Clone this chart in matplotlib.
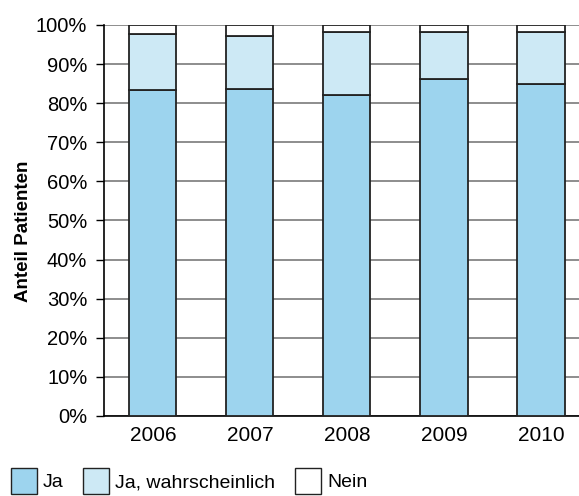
import matplotlib
matplotlib.use("Agg")
import matplotlib.pyplot as plt
from matplotlib.patches import Patch
from matplotlib.ticker import PercentFormatter
import numpy as np

plt.rcParams["font.family"] = ["Liberation Sans", "DejaVu Sans"]
plt.rcParams["font.size"] = 14

# ── data ──────────────────────────────────────────────────────────────────────
years = ["2006", "2007", "2008", "2009", "2010"]
ja = [83.4, 83.6, 82.2, 86.1, 84.9]
ja_wahrsch = [14.2, 13.6, 16.1, 12.0, 13.2]
nein = [2.4, 2.8, 1.7, 1.9, 1.9]

C_JA = "#9dd4ee"
C_JW = "#cde9f5"
C_NEIN = "#ffffff"
C_EDGE = "#222222"

fig = plt.figure(figsize=(5.79, 4.96), dpi=100)
ax = fig.add_axes([0.1796, 0.1613, 0.8385, 0.7883])

x = np.arange(len(years))
w = 0.485
bottom = np.zeros(len(years))
for vals, col, lbl in [(ja, C_JA, "Ja"), (ja_wahrsch, C_JW, "Ja, wahrscheinlich"),
                       (nein, C_NEIN, "Nein")]:
    ax.bar(x, vals, w, bottom=bottom, color=col, edgecolor=C_EDGE,
           linewidth=1.3, zorder=3, label=lbl)
    bottom += np.array(vals)

ax.set_xlim(-0.505, 4.5)
ax.set_ylim(0, 100)
ax.set_yticks(np.arange(0, 101, 10))
ax.yaxis.set_major_formatter(PercentFormatter(decimals=0))
ax.set_xticks(x)
ax.set_xticklabels(years)
ax.tick_params(axis="x", length=0, pad=7, labelsize=15)
ax.tick_params(axis="y", length=6, width=1, direction="out", pad=6, labelsize=14.5)
ax.grid(axis="y", color="#7a7a7a", linewidth=1.2, zorder=0)
for s in ("top", "right"):
    ax.spines[s].set_visible(False)
ax.spines["left"].set_linewidth(1.2)
ax.spines["bottom"].set_linewidth(1.2)
ax.set_ylabel("Anteil Patienten", fontweight="bold", fontsize=13.5)
ax.yaxis.set_label_coords(-0.149, 0.473)

handles = [Patch(facecolor=C_JA, edgecolor=C_EDGE, linewidth=1.0),
           Patch(facecolor=C_JW, edgecolor=C_EDGE, linewidth=1.0),
           Patch(facecolor=C_NEIN, edgecolor=C_EDGE, linewidth=1.0)]
fig.legend(handles, ["Ja", "Ja, wahrscheinlich", "Nein"], loc="lower left",
           bbox_to_anchor=(11 / 579, 2 / 496), ncol=3, frameon=False,
           fontsize=14, handlelength=1.34, handleheight=1.685, handletextpad=0.31,
           columnspacing=1.0, borderpad=0, borderaxespad=0)

fig.savefig("out.png", dpi=100)
